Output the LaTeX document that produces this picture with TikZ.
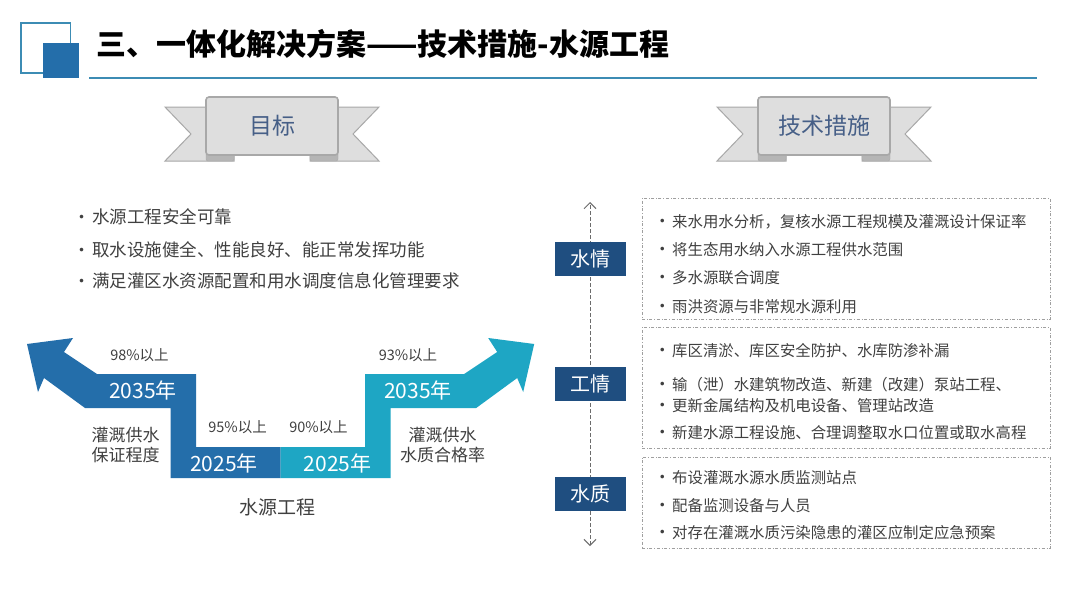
\documentclass[tikz,border=0pt]{standalone}
\usepackage{fontspec}
\setmainfont{Noto Sans CJK SC}
\usepackage{tikz}
\usetikzlibrary{arrows.meta, positioning}

\definecolor{deepblue}{RGB}{36,110,170}
\definecolor{aqua}{RGB}{30,166,196}
\definecolor{navy}{RGB}{31,78,128}
\definecolor{rulecol}{RGB}{60,140,180}
\definecolor{ribbonfill}{RGB}{222,222,222}
\definecolor{ribbonline}{RGB}{168,168,168}
\definecolor{ribbontext}{RGB}{70,95,135}
\definecolor{textgray}{RGB}{64,64,64}

\newcommand{\fsz}[2]{\fontsize{#1}{#2}\selectfont}
\newcommand{\bul}[1]{\makebox[#1][l]{\fsz{17}{17}\textbullet}}

\begin{document}
\begin{tikzpicture}[x=1pt, y=-1pt,
            title/.style={anchor=west, inner sep=0, font=\fsz{30}{35}\bfseries},
            ribbon/.style={rectangle, rounded corners=3pt, draw=ribbonline, line width=1.6pt, fill=ribbonfill, minimum width=132pt, minimum height=58pt, font=\fsz{23}{28}, text=ribbontext},
            tail/.style={draw=ribbonline, line width=1pt, fill=ribbonfill},
            fold/.style={draw=ribbonline, fill=ribbonline!85, rounded corners=2pt},
            goal/.style={anchor=west, inner sep=0, font=\fsz{17.5}{21}, text=textgray},
            pct/.style={font=\fsz{14.5}{17}, text=textgray},
            year/.style={font=\fsz{21}{24}, text=white},
            caption/.style={align=center, font=\fsz{17}{20.5}, text=textgray},
            tag/.style={rectangle, fill=navy, text=white, inner sep=0, minimum width=71pt, minimum height=34pt, font=\fsz{20}{24}},
            group/.style={rectangle, draw=gray!75, dash dot, line width=0.8pt, minimum width=408pt},
            item/.style={anchor=west, inner sep=0, font=\fsz{15.4}{18}, text=textgray},
            axis/.style={{Straight Barb[length=6pt, width=12pt]}-{Straight Barb[length=6pt, width=12pt]}, dash pattern=on 4pt off 2pt, gray!85!black, line width=1pt}
        ]
            \path[fill=white] (0,0) rectangle (1080,608);

            % header
            \draw[rulecol, line width=1.6pt] (21,23) rectangle (70.6,73);
            \fill[deepblue] (43,43) rectangle (78.5,78);
            \node[title] (head) at (96,44) {三、一体化解决方案——技术措施-水源工程};
            \draw[rulecol, line width=1.4pt] (89,78) -- (1037,78);

            % ribbons
            \foreach \cx/\name/\txt in {272/goal/目标, 824/tech/技术措施} {
                \filldraw[tail] ({\cx-107},107) -- ({\cx-38},107) -- ({\cx-38},161) -- ({\cx-107},161) -- ({\cx-81},134) -- cycle;
                \filldraw[tail] ({\cx+107},107) -- ({\cx+38},107) -- ({\cx+38},161) -- ({\cx+107},161) -- ({\cx+81},134) -- cycle;
                \filldraw[fold] ({\cx-66},150) rectangle ({\cx-38},161);
                \filldraw[fold] ({\cx+66},150) rectangle ({\cx+38},161);
                \node[ribbon] (\name) at (\cx,126) {\txt};
            }

            % goals
            \node[goal] (g1) at (73,217) {\bul{19pt}水源工程安全可靠};
            \node[goal] (g2) at (73,250) {\bul{19pt}取水设施健全、性能良好、能正常发挥功能};
            \node[goal] (g3) at (73,281) {\bul{19pt}满足灌区水资源配置和用水调度信息化管理要求};

            % stepped arrows
            \fill[deepblue] (27,344) -- (73,338) -- (64,352) -- (97,374) -- (196,374) -- (196,447) -- (280.6,447) -- (280.6,478) -- (170.5,478) -- (170.5,408) -- (85,408) -- (44,378) -- (38,392) -- cycle;
            \fill[aqua] (280.6,447) -- (365.2,447) -- (365.2,374) -- (464.2,374) -- (497.2,352) -- (488.2,338) -- (534.2,344) -- (523.2,392) -- (517.2,378) -- (476.2,408) -- (390.7,408) -- (390.7,478) -- (280.6,478) -- cycle;

            \node[pct] (p98) at (139.5,355) {98\%以上};
            \node[year] (ya) at (143,390) {2035年};
            \node[pct] (p95) at (237.6,427) {95\%以上};
            \node[year] (yb) at (224,463) {2025年};
            \node[pct] (p90) at (318.5,427) {90\%以上};
            \node[year] (yc) at (337.5,463) {2025年};
            \node[pct] (p93) at (408,355) {93\%以上};
            \node[year] (yd) at (418,390) {2035年};
            \node[caption] (supply) at (125.7,445) {灌溉供水\\保证程度};
            \node[caption] (purity) at (442.5,445) {灌溉供水\\水质合格率};
            \node[caption, font=\fsz{19}{22}] (source) at (277,507) {水源工程};

            % measures
            \coordinate (top) at (590,202);
            \coordinate (bottom) at (590,546);
            \draw[axis] (bottom) -- (top);

            \node[group, minimum height=121pt] (grpa) at (846,258.5) {};
            \node[group, minimum height=121pt] (grpb) at (846,387.5) {};
            \node[group, minimum height=91pt] (grpc) at (846,502.5) {};

            \node[tag] (water) at (590,259) {水情};
            \node[tag] (works) at (590,384) {工情};
            \node[tag] (quality) at (590,493.5) {水质};

            \foreach \y/\t in {222/来水用水分析，复核水源工程规模及灌溉设计保证率, 250/将生态用水纳入水源工程供水范围, 278/多水源联合调度, 307/雨洪资源与非常规水源利用,
                               351/库区清淤、库区安全防护、水库防渗补漏, 385/输（泄）水建筑物改造、新建（改建）泵站工程、, 406/更新金属结构及机电设备、管理站改造, 433/新建水源工程设施、合理调整取水口位置或取水高程,
                               478/布设灌溉水源水质监测站点, 506/配备监测设备与人员, 533/对存在灌溉水质污染隐患的灌区应制定应急预案}
                \node[item] (m\y) at (653.6,\y) {\bul{18.4pt}\t};
        \end{tikzpicture}
\end{document}
